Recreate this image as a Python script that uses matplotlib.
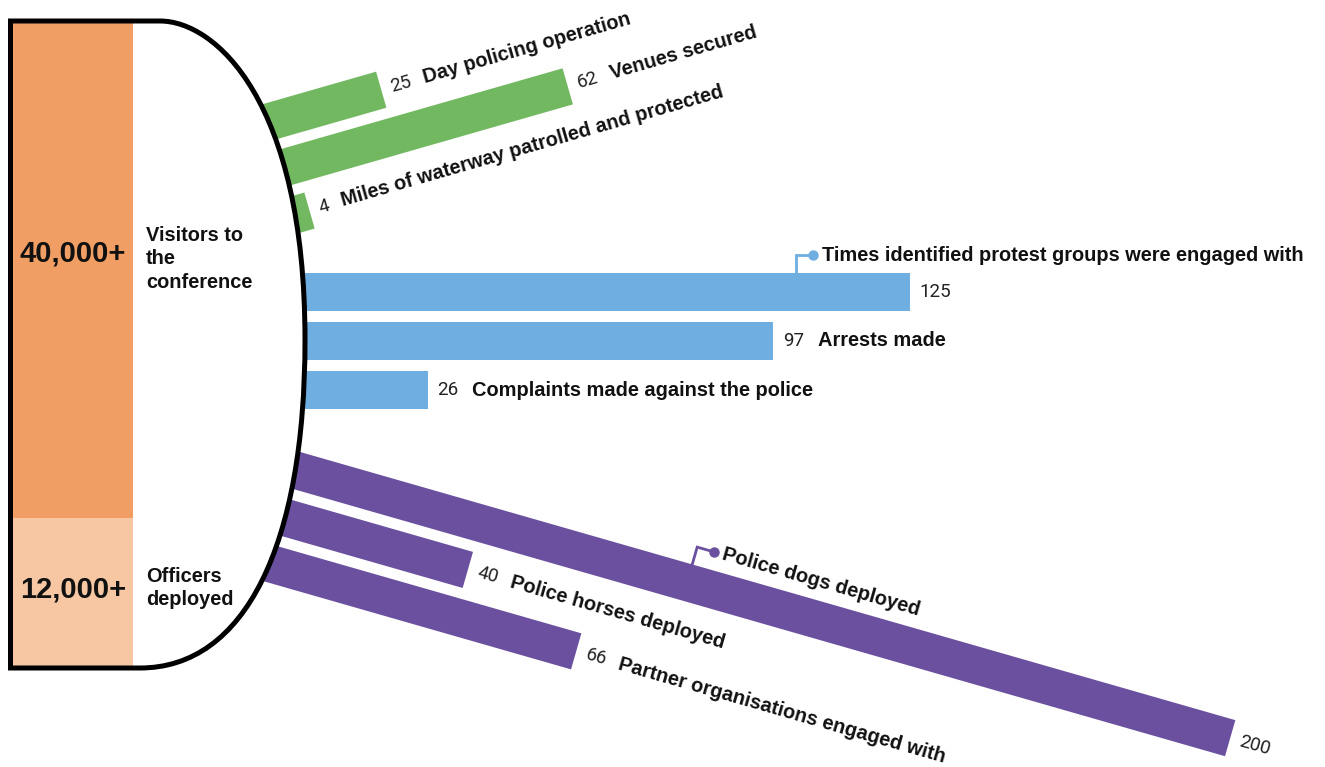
import numpy as np
import matplotlib
matplotlib.use("Agg")
import matplotlib.pyplot as plt
from matplotlib.path import Path
from matplotlib.patches import PathPatch
from matplotlib.transforms import Affine2D
from matplotlib.font_manager import FontProperties

# ---------------- data ----------------
headline_values = [40000, 12000]
headline_numbers = ["40,000+", "12,000+"]
headline_texts = ["Visitors to\nthe\nconference", "Officers\ndeployed"]

green_labels = ["Day policing operation", "Venues secured",
                "Miles of waterway patrolled and protected"]
green_values = [25, 62, 4]

blue_labels = ["Times identified protest groups were engaged with",
               "Arrests made", "Complaints made against the police"]
blue_values = [125, 97, 26]

purple_labels = ["Police dogs deployed", "Police horses deployed",
                 "Partner organisations engaged with"]
purple_values = [200, 40, 66]

# ---------------- figure ----------------
W, H = 1325, 767
fig = plt.figure(figsize=(W / 100, H / 100), dpi=100)
ax = fig.add_axes([0, 0, 1, 1])
ax.set_autoscale_on(False)
ax.set_xlim(0, W)
ax.set_ylim(H, 0)
ax.axis("off")

PX = 4.87          # pixels per unit for the rotated bar charts
BAR_H = 37.5
LABEL_FONT = dict(family=["Liberation Sans", "DejaVu Sans"], weight="bold",
                  size=14.4, color="#111111")
NUM_FONT = dict(family=["Roboto", "DejaVu Sans"], size=13.5, color="#222222")

renderer = fig.canvas.get_renderer()


def text_w(s, fd):
    fp = FontProperties(family=fd["family"], weight=fd.get("weight", "normal"),
                        size=fd["size"])
    w, h, d = renderer.get_text_width_height_descent(s, fp, ismath=False)
    return w


groups = [
    dict(values=green_values, labels=green_labels, color="#72B860", angle=-16,
         u0=220, v0=191.3, pitch=48.2, callout=None),
    dict(values=blue_values, labels=blue_labels, color="#6FAEE0", angle=0,
         u0=301, v0=292, pitch=49, callout=(0, 796)),
    dict(values=purple_values, labels=purple_labels, color="#6A509E", angle=16,
         u0=412, v0=370.5, pitch=48.4, callout=(0, 821)),
]

for g in groups:
    rot = Affine2D().rotate_deg(g["angle"])
    tr = rot + ax.transData
    n = len(g["values"])
    vs = np.array([g["v0"] + i * g["pitch"] for i in range(n)])
    widths = np.array(g["values"], dtype=float) * PX
    ax.barh(vs, widths, left=g["u0"], height=BAR_H, color=g["color"],
            transform=tr, zorder=1, linewidth=0)
    trot = -g["angle"]
    for i, (val, lab) in enumerate(zip(g["values"], g["labels"])):
        u_end = g["u0"] + val * PX
        num = str(val)
        x, y = rot.transform([u_end + 10, vs[i]])
        ax.text(x, y, num, rotation=trot, rotation_mode="anchor",
                ha="left", va="center", zorder=6, **NUM_FONT)
        if g["callout"] is not None and g["callout"][0] == i:
            cu = g["callout"][1]
            vt = vs[i] - BAR_H / 2
            vc = vt - 18
            pts = rot.transform([[cu, vt], [cu, vc], [cu + 17, vc]])
            ax.plot(pts[:, 0], pts[:, 1], color=g["color"], lw=2, zorder=6,
                    solid_joinstyle="miter")
            ax.plot([pts[2, 0]], [pts[2, 1]], "o", color=g["color"], ms=6.5,
                    zorder=6)
            lx, ly = rot.transform([cu + 17 + 9, vc])
            ax.text(lx, ly, lab, rotation=trot, rotation_mode="anchor",
                    ha="left", va="center", zorder=6, **LABEL_FONT)
        else:
            wn = text_w(num, NUM_FONT)
            lx, ly = rot.transform([u_end + 10 + wn + 13, vs[i]])
            ax.text(lx, ly, lab, rotation=trot, rotation_mode="anchor",
                    ha="left", va="center", zorder=6, **LABEL_FONT)

# ---------------- left "D" shape ----------------
verts = [(10.5, 21), (160, 21),
         (215, 21), (305, 100), (305, 340),
         (305, 545), (245, 668), (140, 668),
         (10.5, 668), (10.5, 21)]
codes = [Path.MOVETO, Path.LINETO,
         Path.CURVE4, Path.CURVE4, Path.CURVE4,
         Path.CURVE4, Path.CURVE4, Path.CURVE4,
         Path.LINETO, Path.CLOSEPOLY]
shape = Path(verts, codes)
ax.add_patch(PathPatch(shape, facecolor="white", edgecolor="none", zorder=2))
ax.add_patch(PathPatch(shape, facecolor="none", edgecolor="black", lw=3.6,
                       zorder=4, joinstyle="miter"))

# stacked headline bar
k = (666 - 23) / float(sum(headline_values))
bottoms = 23 + np.concatenate([[0], np.cumsum(headline_values)[:-1]]) * k
heights = np.array(headline_values) * k
ax.bar([72.5, 72.5], heights, bottom=bottoms, width=121,
       color=["#F09E64", "#F6C7A2"], linewidth=0, zorder=3)

num_y = [253, 589]
txt_y = [259, 588]
for i in range(2):
    ax.text(73, num_y[i], headline_numbers[i], ha="center", va="center",
            family=["Liberation Sans", "DejaVu Sans"], weight="bold",
            size=21, color="#111111", zorder=6)
    ax.text(146, txt_y[i], headline_texts[i], ha="left", va="center",
            linespacing=1.32, zorder=6, **LABEL_FONT)

fig.savefig("out.png", dpi=100)
